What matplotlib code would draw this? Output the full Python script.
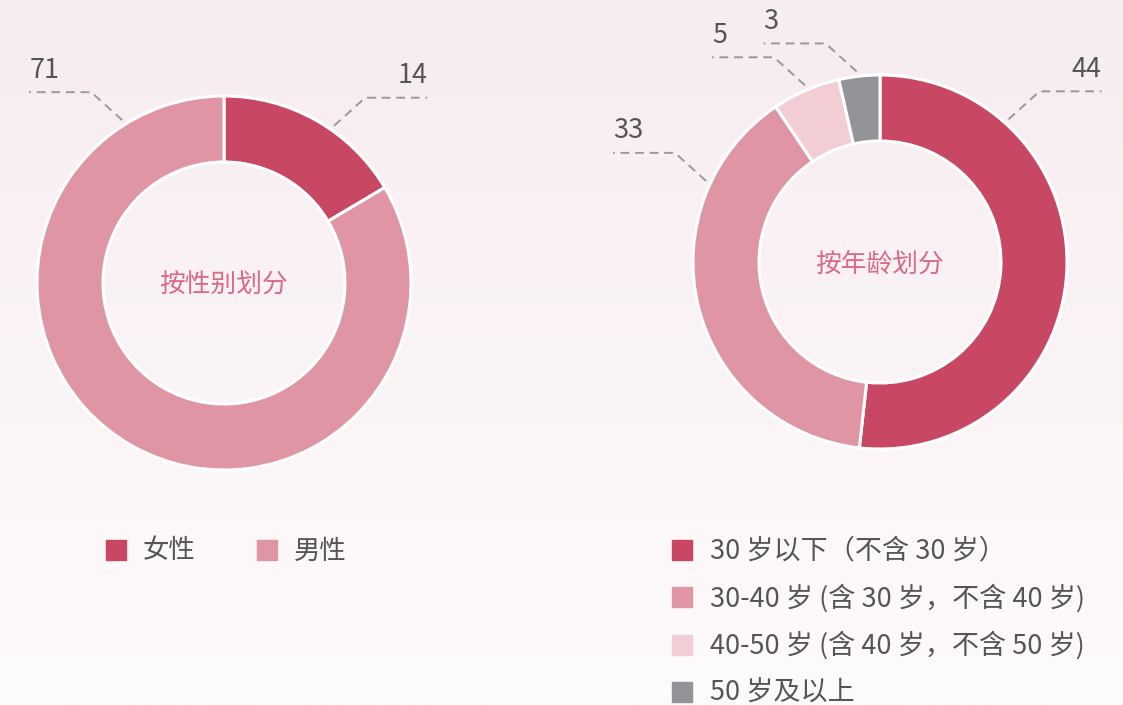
import numpy as np
import matplotlib
matplotlib.use('Agg')
import matplotlib.pyplot as plt
from matplotlib.patches import Rectangle

plt.rcParams['font.family'] = ['Noto Sans CJK SC', 'DejaVu Sans']

# data
gender_labels = ['女性', '男性']
gender_counts = [14, 71]
age_labels = ['30 岁以下（不含 30 岁）', '30-40 岁 (含 30 岁，不含 40 岁)',
              '40-50 岁 (含 40 岁，不含 50 岁)', '50 岁及以上']
age_counts = [44, 33, 5, 3]

# where the callouts leave the ring (degrees clockwise from 12 o'clock)
gender_label_angles = [35, 328]
age_label_angles = [42, 295, 337, 353]

gender_colors = ['#C84762', '#E095A5']
age_colors = ['#C84762', '#E095A5', '#F2CDD4', '#939399']
text_grey = '#555555'
title_pink = '#D96A85'

W, H = 1123, 705
fig = plt.figure(figsize=(W / 100, H / 100), dpi=100)
ax = fig.add_axes([0, 0, 1, 1])

# soft pink background fading to white
top = np.array([247, 236, 239]) / 255
bot = np.array([254, 251, 252]) / 255
t = np.linspace(0, 1, 256)[:, None, None]
grad = top * (1 - t) + bot * t
grad = np.repeat(grad, 2, axis=1)
ax.imshow(grad, extent=[0, W, H, 0], aspect='auto', zorder=0)

R_OUT, R_IN = 187, 121


def donut(cx, cy, counts, colors, title, label_angles):
    # y axis points down, so counterclock=True runs clockwise on screen
    ax.pie(counts, colors=colors, startangle=-90, counterclock=True,
           center=(cx, cy), radius=R_OUT, frame=True,
           wedgeprops=dict(width=R_OUT - R_IN, edgecolor='white', linewidth=2.2))
    ax.text(cx, cy + 3, title, ha='center', va='center', fontsize=18.5, color=title_pink, zorder=5)
    for val, ang in zip(counts, label_angles):
        a = np.deg2rad(ang)
        sx, sy = cx + (R_OUT + 5) * np.sin(a), cy - (R_OUT + 5) * np.cos(a)
        sgn = 1 if np.sin(a) > 0 else -1
        ex, ey = sx + sgn * 31, sy - 28
        fx = ex + sgn * 62
        ax.plot([sx, ex, fx], [sy, ey, ey], color='#999999', lw=1.4,
                linestyle=(0, (4.5, 3)), zorder=4)
        ax.text(fx, ey - 22, str(val), ha='right' if sgn > 0 else 'left', va='center',
                fontsize=19.5, color=text_grey, zorder=5)


donut(224, 283, gender_counts, gender_colors, '按性别划分', gender_label_angles)
donut(880, 262, age_counts, age_colors, '按年龄划分', age_label_angles)

ax.set_xlim(0, W)
ax.set_ylim(H, 0)
ax.set_aspect('auto')
ax.axis('off')

# legends
for x_box, lab, col in zip([106, 257], gender_labels, gender_colors):
    ax.add_patch(Rectangle((x_box, 540), 20, 20, color=col, zorder=5))
    ax.text(x_box + 37, 551, lab, ha='left', va='center', fontsize=19, color=text_grey)

for i, (lab, col) in enumerate(zip(age_labels, age_colors)):
    y = 550 + i * 47.3
    ax.add_patch(Rectangle((672, y - 10), 20, 20, color=col, zorder=5))
    ax.text(710, y + 1, lab, ha='left', va='center', fontsize=19.5, color=text_grey)

fig.savefig('out.png', dpi=100)
